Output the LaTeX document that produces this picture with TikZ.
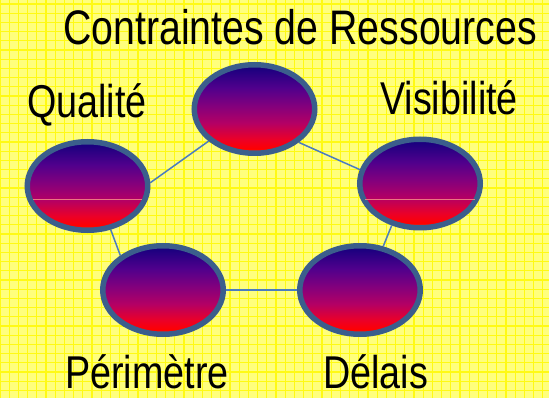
\documentclass[tikz,border=0pt]{standalone}
\usepackage{fontspec}
\setmainfont{Liberation Sans}
\usetikzlibrary{shapes.geometric}
\definecolor{bgfill}{RGB}{255,255,125}
\definecolor{bggrid}{RGB}{255,250,20}
\definecolor{rimblue}{RGB}{59,94,140}
\definecolor{linkblue}{RGB}{74,124,192}
\definecolor{glintpink}{RGB}{235,120,130}
\pgfdeclareverticalshading{ovalsh}{100bp}{%
  color(0bp)=(red!80!yellow); color(25bp)=(red!75!yellow);
  color(27.5bp)=(red); color(33bp)=({rgb,255:red,235;green,0;blue,40});
  color(42bp)=({rgb,255:red,180;green,0;blue,100});
  color(52bp)=({rgb,255:red,130;green,0;blue,125});
  color(62bp)=({rgb,255:red,80;green,0;blue,140});
  color(75bp)=({rgb,255:red,18;green,0;blue,125}); color(100bp)=({rgb,255:red,18;green,0;blue,125})}
\pgfdeclarelayer{bg}
\pgfsetlayers{bg,main}
\tikzset{
  oval/.style={ellipse, draw=rimblue, line width=5.5pt, minimum width=120.5pt,
    minimum height=88.5pt, inner sep=0pt, shading=ovalsh},
  link/.style={draw=linkblue, line width=1.5pt},
  lbl/.style={anchor=base west, inner sep=0pt, text=black},
  glint/.style={draw=glintpink, line width=0.8pt},
  gridline/.style={draw=bggrid, line width=1.3pt}
}
\newcommand{\lbltext}[1]{\raisebox{0pt}[\height][0pt]{\scalebox{0.82}[1]{\fontsize{46}{50}\selectfont #1}}}
\begin{document}
\begin{tikzpicture}[x=1pt,y=-1pt]
\useasboundingbox (0,0) rectangle (549,398);
\begin{pgfonlayer}{bg}
  \fill[bgfill] (0,0) rectangle (549,398);
  \foreach \gx in {0,9.2,...,549} {\draw[gridline] (\gx,0) -- (\gx,398);}
  \foreach \gy in {4,13.2,...,398} {\draw[gridline] (0,\gy) -- (549,\gy);}
\end{pgfonlayer}
\node[oval] (top) at (254.5,109) {};
\node[oval] (qual) at (87.5,186) {};
\node[oval] (vis) at (420,183.5) {};
\node[oval] (peri) at (163,290) {};
\node[oval] (del) at (360,290) {};
\draw[glint] (33,199.5) -- (142,199.5);
\draw[glint] (365,199.5) -- (475,199.5);
\begin{pgfonlayer}{bg}
  \draw[link] (top.215) -- (qual.3);
  \draw[link] (top.323) -- (vis.167);
  \draw[link] (qual.298) -- (peri.141);
  \draw[link] (vis.236) -- (del.62);
  \draw[link] (peri.east) -- (del.west);
\end{pgfonlayer}
\node[lbl] (title) at (63,45) {\scalebox{0.81}[1]{\fontsize{48.5}{52}\selectfont Contraintes de Ressources}};
\node[lbl] (tqual) at (27,118) {\lbltext{Qualité}};
\node[lbl] (tvis) at (380,115) {\lbltext{Visibilité}};
\node[lbl] (tperi) at (65,388) {\lbltext{Périmètre}};
\node[lbl] (tdel) at (323,388) {\lbltext{Délais}};
\end{tikzpicture}
\end{document}
